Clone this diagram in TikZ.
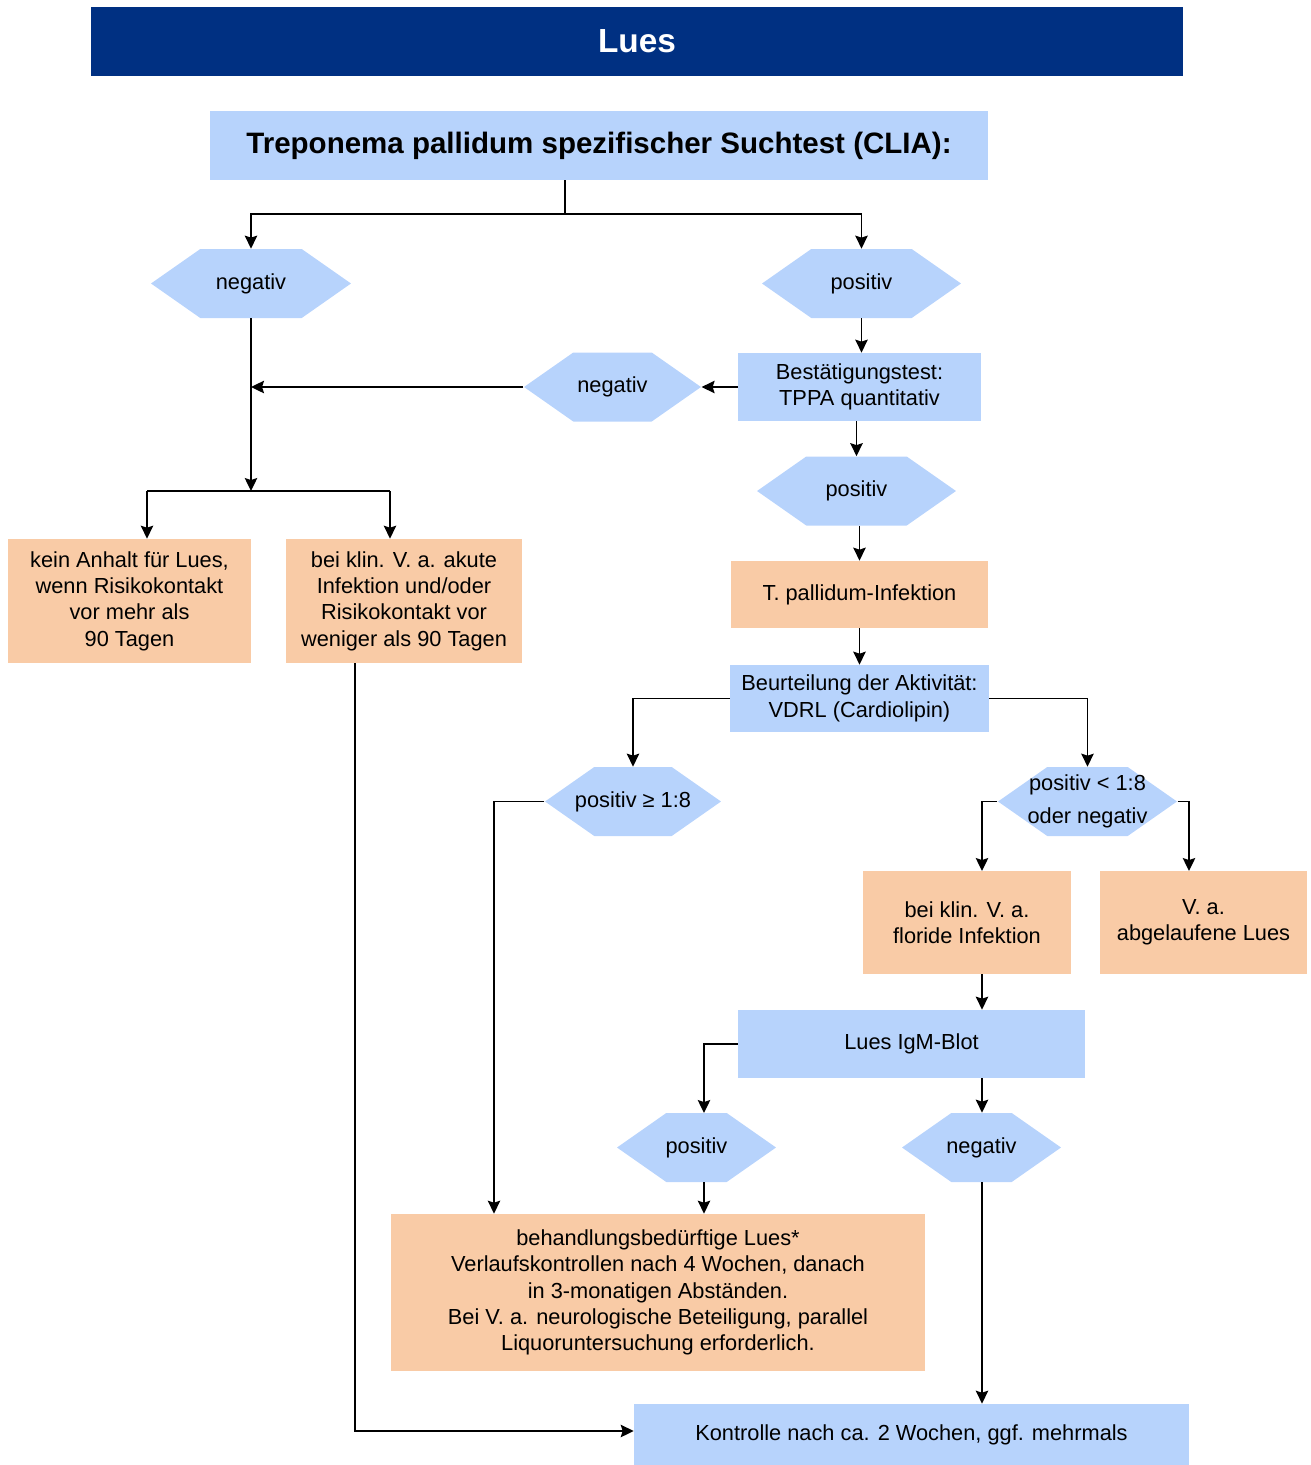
\documentclass[tikz,border=0pt]{standalone}
\usepackage{fontspec}
\setmainfont{Liberation Sans}
\usetikzlibrary{arrows.meta,shapes.symbols}

\definecolor{luesblau}{RGB}{0,48,130}
\definecolor{hellblau}{RGB}{183,211,252}
\definecolor{hellorange}{RGB}{249,203,166}

\tikzset{
  pfeil/.style={-{Stealth[length=2.6mm,width=2.5mm,inset=0.4mm]},line width=0.9pt},
  linie/.style={line width=0.9pt}
}

\begin{document}
\begin{tikzpicture}[x=0.02cm,y=-0.02cm,
    font=\fontsize{12.4}{15}\selectfont]

      \useasboundingbox (0,0) rectangle (1311,1465);

      \node (kopf) at (637,41.5) [fill=luesblau,text=white,
        minimum width=21.84cm,minimum height=1.38cm,
        font=\fontsize{19}{22}\selectfont\bfseries] {Lues};

      % blaue Kaesten
      \begin{scope}[every node/.style={fill=hellblau,align=center,inner sep=2pt}]
        \node (titel) at (599,145.5) [minimum width=15.56cm,minimum height=1.38cm,
          font=\fontsize{16.8}{19}\selectfont\bfseries]
          {Treponema pallidum spezifischer Suchtest (CLIA):};
        \node (bestaet) at (859.5,387) [minimum width=4.86cm,minimum height=1.36cm]
          {Bestätigungstest:\\TPPA quantitativ};
        \node (aktiv) at (859.5,698.5) [minimum width=5.18cm,minimum height=1.34cm]
          {Beurteilung der Aktivität:\\VDRL (Cardiolipin)};
        \node (igm) at (911.5,1044) [minimum width=6.94cm,minimum height=1.36cm]
          {Lues IgM-Blot};
        \node (kontrolle) at (911.5,1434.5) [minimum width=11.1cm,minimum height=1.22cm]
          {Kontrolle nach ca. 2 Wochen, ggf. mehrmals};
      \end{scope}

      % Sechsecke
      \begin{scope}[every node/.style={fill=hellblau,align=center,
          inner xsep=-0.8cm,inner ysep=1pt,
          signal,signal to=west and east,signal pointer angle=70,minimum height=1.38cm}]
        \node (suchneg) at (251,283.5) [minimum width=4cm] {negativ};
        \node (suchpos) at (861.5,283.5) [minimum width=3.98cm] {positiv};
        \node (bestneg) at (612.5,387) [minimum width=3.54cm] {negativ};
        \node (bestpos) at (856.5,491) [minimum width=3.98cm] {positiv};
        \node (vdrlhoch) at (633,801.5) [minimum width=3.52cm] {positiv ≥ 1:8};
        \node (vdrlniedrig) at (1087.5,801.5) [minimum width=3.58cm,
          font=\fontsize{12.4}{18.7}\selectfont] {positiv < 1:8\\oder negativ};
        \node (igmpos) at (696.5,1147.5) [minimum width=3.18cm] {positiv};
        \node (igmneg) at (981.5,1147.5) [minimum width=3.18cm] {negativ};
      \end{scope}

      % orange Kaesten
      \begin{scope}[every node/.style={fill=hellorange,align=center,inner sep=2pt}]
        \node (keinlues) at (129.5,601) [minimum width=4.86cm,minimum height=2.48cm]
          {kein Anhalt für Lues,\\wenn Risikokontakt\\vor mehr als\\90 Tagen};
        \node (akut) at (404,601) [minimum width=4.72cm,minimum height=2.48cm]
          {bei klin. V. a. akute\\Infektion und/oder\\Risikokontakt vor\\weniger als 90 Tagen};
        \node (infekt) at (859.5,594.5) [minimum width=5.14cm,minimum height=1.34cm]
          {T. pallidum-Infektion};
        \node (floride) at (967,922.5) [minimum width=4.16cm,minimum height=2.06cm]
          {bei klin. V. a.\\floride Infektion};
        \node (abgel) at (1203.5,922.5) [minimum width=4.14cm,minimum height=2.06cm]
          {V. a.\\abgelaufene Lues};
        \node (behandl) at (658,1292.5) [minimum width=10.68cm,minimum height=3.14cm]
          {behandlungsbedürftige Lues*\\Verlaufskontrollen nach 4 Wochen, danach\\
           in 3-monatigen Abständen.\\Bei V. a. neurologische Beteiligung, parallel\\
           Liquoruntersuchung erforderlich.};
      \end{scope}

      \coordinate (t1) at (565,214);
      \coordinate (k1) at (147,491);
      \coordinate (k2) at (390,491);
      \coordinate (h1) at (494,801.5);
      \coordinate (n1) at (982,871);
      \coordinate (n2) at (1189,871);
      \coordinate (p1) at (704,1113);
      \coordinate (a1) at (355,1431);

      % Suchtest
      \draw[linie] (t1 |- titel.south) -- (t1);
      \draw[pfeil] (t1) -| (suchneg.north);
      \draw[pfeil] (t1) -| (suchpos.north);

      % negativer Zweig
      \draw[pfeil] (suchneg.south) -- (suchneg.south |- k1);
      \draw[linie] (k1) -- (k2);
      \draw[pfeil] (k1) -- (k1 |- keinlues.north);
      \draw[pfeil] (k2) -- (k2 |- akut.north);
      \draw[pfeil] (bestneg.west) -- (bestneg.west -| suchneg.south);
      \draw[pfeil] (a1 |- akut.south) -- (a1) -- (a1 -| kontrolle.west);

      % Bestaetigung
      \draw[pfeil] (suchpos.south) -- (suchpos.south |- bestaet.north);
      \draw[pfeil] (bestaet.west) -- (bestneg.east);
      \draw[pfeil] (bestpos.north |- bestaet.south) -- (bestpos.north);
      \draw[pfeil] (infekt.north |- bestpos.south) -- (infekt.north);
      \draw[pfeil] (infekt.south) -- (aktiv.north);

      % Aktivitaet
      \draw[pfeil] (aktiv.west) -| (vdrlhoch.north);
      \draw[pfeil] (aktiv.east) -| (vdrlniedrig.north);
      \draw[pfeil] (vdrlhoch.west) -- (h1) -- (h1 |- behandl.north);
      \draw[pfeil] (vdrlniedrig.west) -| (n1);
      \draw[pfeil] (vdrlniedrig.east) -| (n2);

      % IgM-Blot
      \draw[pfeil] (n1 |- floride.south) -- (n1 |- igm.north);
      \draw[pfeil] (igm.west) -| (p1);
      \draw[pfeil] (n1 |- igm.south) -- (n1 |- igmneg.north);
      \draw[pfeil] (p1 |- igmpos.south) -- (p1 |- behandl.north);
      \draw[pfeil] (n1 |- igmneg.south) -- (n1 |- kontrolle.north);

    \end{tikzpicture}
\end{document}
